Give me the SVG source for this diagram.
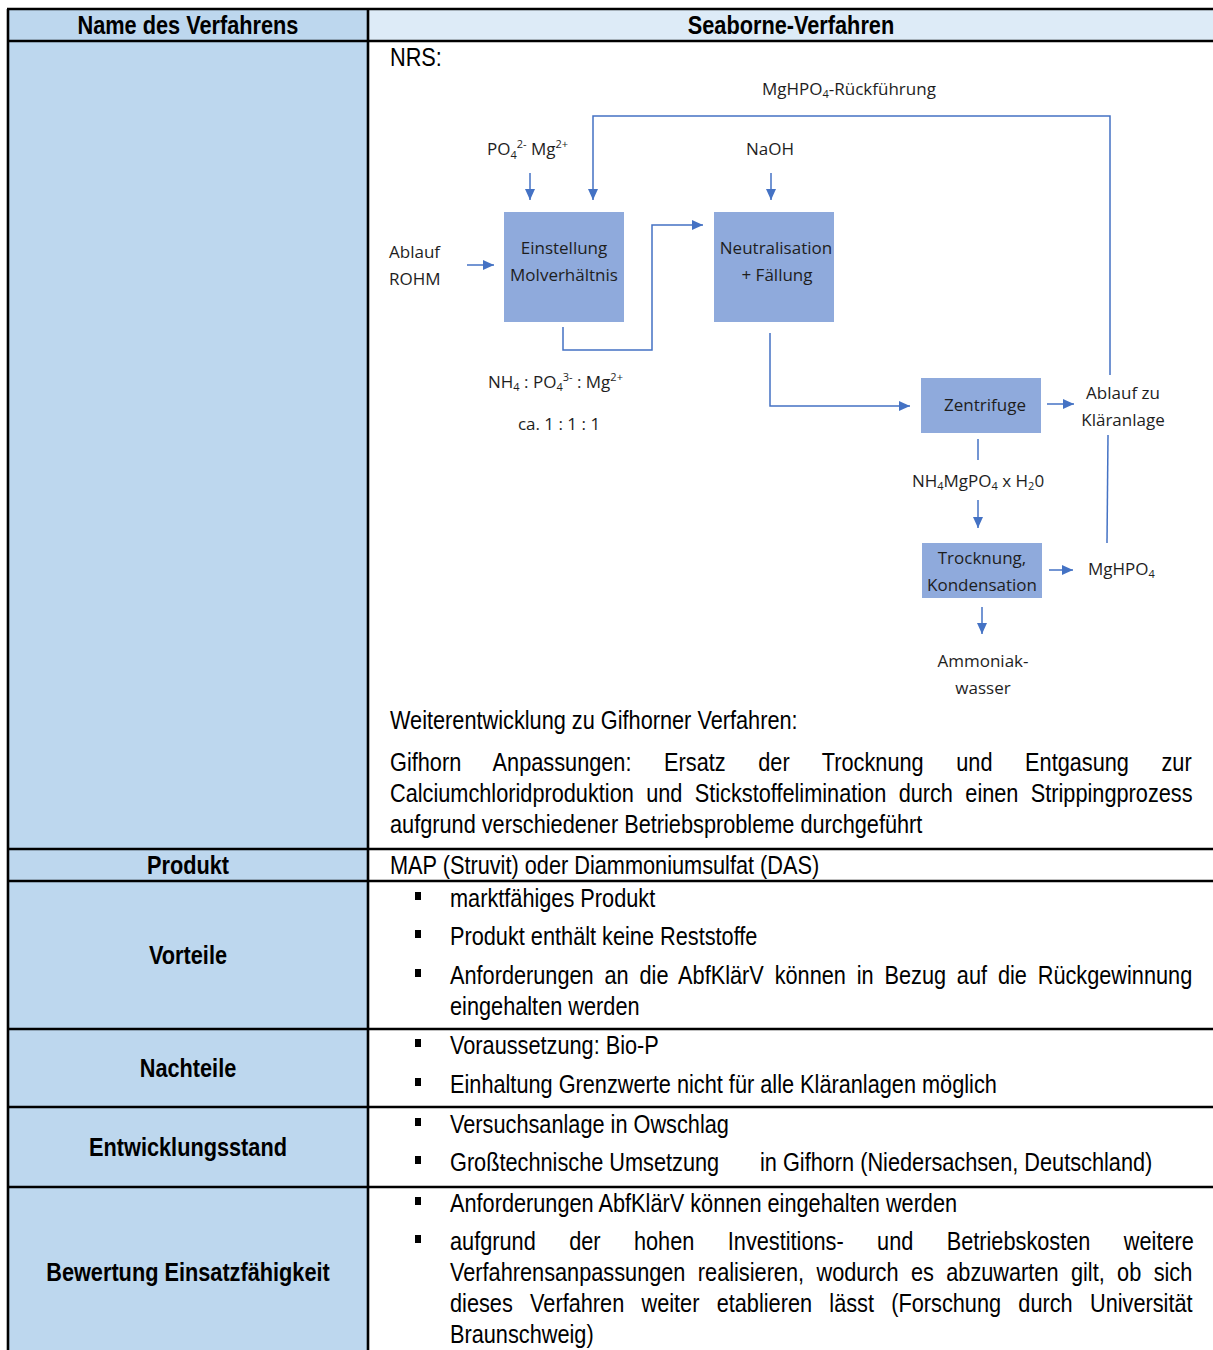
<svg xmlns="http://www.w3.org/2000/svg" width="1213" height="1350" viewBox="0 0 1213 1350">
<defs>
<style>
.t{font-family:"Liberation Sans Narrow","Liberation Sans",Arial,sans-serif;font-size:26.5px;fill:#000}
.b{font-weight:bold}
.c{text-anchor:middle}
.d{font-family:"Open Sans","Noto Sans",sans-serif;font-size:17px;fill:#1e1e1e}
.s{font-size:11px}
.cn{fill:none;stroke:#4472C4;stroke-width:1.5}
.box{fill:#8FAADC}
.grid{stroke:#000;stroke-width:2.6;fill:none}
.bul{fill:#000}
</style>
<marker id="ah" markerUnits="userSpaceOnUse" markerWidth="11" markerHeight="10" refX="11" refY="5" orient="auto">
<path d="M0,0 L11,5 L0,10 z" fill="#4472C4"/>
</marker>
</defs>
<rect width="1213" height="1350" fill="#fff"/>

<g id="table">
<rect x="8" y="9" width="360" height="1341" fill="#BDD7EE"/>
<rect x="368" y="9" width="846" height="32" fill="#DDEBF7"/>
<path class="grid" d="M7,9H1213M7,41H1213M7,849H1213M7,881H1213M7,1029H1213M7,1107H1213M7,1187H1213M8,9V1350M368,9V1350"/>
</g>

<g id="labels" transform="scale(0.82,1)">
<text class="t b c" x="229.27" y="34">Name des Verfahrens</text>
<text class="t b c" x="964.63" y="34">Seaborne-Verfahren</text>
<text class="t b c" x="229.27" y="874">Produkt</text>
<text class="t b c" x="229.27" y="964">Vorteile</text>
<text class="t b c" x="229.27" y="1077">Nachteile</text>
<text class="t b c" x="229.27" y="1156">Entwicklungsstand</text>
<text class="t b c" x="229.27" y="1281">Bewertung Einsatzfähigkeit</text>
</g>

<g id="bullets">
<rect class="bul" x="415" y="892" width="6" height="8"/>
<rect class="bul" x="415" y="930" width="6" height="8"/>
<rect class="bul" x="415" y="969" width="6" height="8"/>
<rect class="bul" x="415" y="1039" width="6" height="8"/>
<rect class="bul" x="415" y="1078" width="6" height="8"/>
<rect class="bul" x="415" y="1118" width="6" height="8"/>
<rect class="bul" x="415" y="1156" width="6" height="8"/>
<rect class="bul" x="415" y="1197" width="6" height="8"/>
<rect class="bul" x="415" y="1235" width="6" height="8"/>
</g>

<g id="content" transform="scale(0.82,1)">
<text class="t" x="475.61" y="66">NRS:</text>
<text class="t" x="475.61" y="729">Weiterentwicklung zu Gifhorner Verfahren:</text>
<text class="t" x="475.61" y="771" word-spacing="32.4">Gifhorn Anpassungen: Ersatz der Trocknung und Entgasung zur</text>
<text class="t" x="475.61" y="802" word-spacing="7.7">Calciumchloridproduktion und Stickstoffelimination durch einen Strippingprozess</text>
<text class="t" x="475.61" y="833">aufgrund verschiedener Betriebsprobleme durchgeführt</text>
<text class="t" x="475.61" y="874">MAP (Struvit) oder Diammoniumsulfat (DAS)</text>

<text class="t" x="548.78" y="907">marktfähiges Produkt</text>
<text class="t" x="548.78" y="945">Produkt enthält keine Reststoffe</text>
<text class="t" x="548.78" y="984" word-spacing="5.85">Anforderungen an die AbfKlärV können in Bezug auf die Rückgewinnung</text>
<text class="t" x="548.78" y="1015">eingehalten werden</text>

<text class="t" x="548.78" y="1054">Voraussetzung: Bio-P</text>
<text class="t" x="548.78" y="1093">Einhaltung Grenzwerte nicht für alle Kläranlagen möglich</text>

<text class="t" x="548.78" y="1133">Versuchsanlage in Owschlag</text>
<text class="t" x="548.78" y="1171">Großtechnische Umsetzung</text>
<text class="t" x="926.83" y="1171">in Gifhorn (Niedersachsen, Deutschland)</text>

<text class="t" x="548.78" y="1212">Anforderungen AbfKlärV können eingehalten werden</text>
<text class="t" x="548.78" y="1250" word-spacing="33.4">aufgrund der hohen Investitions- und Betriebskosten weitere</text>
<text class="t" x="548.78" y="1281" word-spacing="7.75">Verfahrensanpassungen realisieren, wodurch es abzuwarten gilt, ob sich</text>
<text class="t" x="548.78" y="1312" word-spacing="13.7">dieses Verfahren weiter etablieren lässt (Forschung durch Universität</text>
<text class="t" x="548.78" y="1343">Braunschweig)</text>
</g>

<g id="connectors">
<path class="cn" d="M530,173V200" marker-end="url(#ah)"/>
<path class="cn" d="M1110,375V116H593V200" marker-end="url(#ah)"/>
<path class="cn" d="M1107,543L1108,435"/>
<path class="cn" d="M771,173V200" marker-end="url(#ah)"/>
<path class="cn" d="M467,265H494" marker-end="url(#ah)"/>
<path class="cn" d="M563,327V350H652V225H703" marker-end="url(#ah)"/>
<path class="cn" d="M770,333V406H910" marker-end="url(#ah)"/>
<path class="cn" d="M1047,404H1074" marker-end="url(#ah)"/>
<path class="cn" d="M978,439V460"/>
<path class="cn" d="M978,500V528" marker-end="url(#ah)"/>
<path class="cn" d="M1049,570H1073" marker-end="url(#ah)"/>
<path class="cn" d="M982,607V634" marker-end="url(#ah)"/>
</g>

<g id="node-einstellung">
<rect class="box" x="504" y="212" width="120" height="110"/>
<text class="d c" x="564" y="254">Einstellung</text>
<text class="d c" x="564" y="281">Molverhältnis</text>
</g>
<g id="node-neutralisation">
<rect class="box" x="714" y="212" width="120" height="110"/>
<text class="d c" x="776" y="254">Neutralisation</text>
<text class="d c" x="777" y="281">+ Fällung</text>
</g>
<g id="node-zentrifuge">
<rect class="box" x="921" y="378" width="120" height="55"/>
<text class="d c" x="985" y="411">Zentrifuge</text>
</g>
<g id="node-trocknung">
<rect class="box" x="922" y="543" width="120" height="55"/>
<text class="d c" x="982" y="564">Trocknung,</text>
<text class="d c" x="982" y="591">Kondensation</text>
</g>

<g id="diagram-labels">
<text class="d" x="389" y="258">Ablauf</text>
<text class="d" x="389" y="285">ROHM</text>
<text class="d" x="487" y="155">PO<tspan class="s" dy="4">4</tspan><tspan class="s" dy="-11">2-</tspan><tspan dy="7"> Mg</tspan><tspan class="s" dy="-7">2+</tspan></text>
<text class="d c" x="770" y="155">NaOH</text>
<text class="d" x="762" y="95">MgHPO<tspan class="s" dy="3">4</tspan><tspan dy="-3">-Rückführung</tspan></text>
<text class="d" x="488" y="388">NH<tspan class="s" dy="3">4</tspan><tspan dy="-3"> : PO</tspan><tspan class="s" dy="3">4</tspan><tspan class="s" dy="-10">3-</tspan><tspan dy="7"> : Mg</tspan><tspan class="s" dy="-7">2+</tspan></text>
<text class="d c" x="559" y="430">ca. 1 : 1 : 1</text>
<text class="d c" x="1123" y="399">Ablauf zu</text>
<text class="d c" x="1123" y="426">Kläranlage</text>
<text class="d c" x="978" y="487">NH<tspan class="s" dy="3">4</tspan><tspan dy="-3">MgPO</tspan><tspan class="s" dy="3">4</tspan><tspan dy="-3"> x H</tspan><tspan class="s" dy="3">2</tspan><tspan dy="-3">0</tspan></text>
<text class="d" x="1088" y="575">MgHPO<tspan class="s" dy="3">4</tspan></text>
<text class="d c" x="983" y="667">Ammoniak-</text>
<text class="d c" x="983" y="694">wasser</text>
</g>
</svg>
